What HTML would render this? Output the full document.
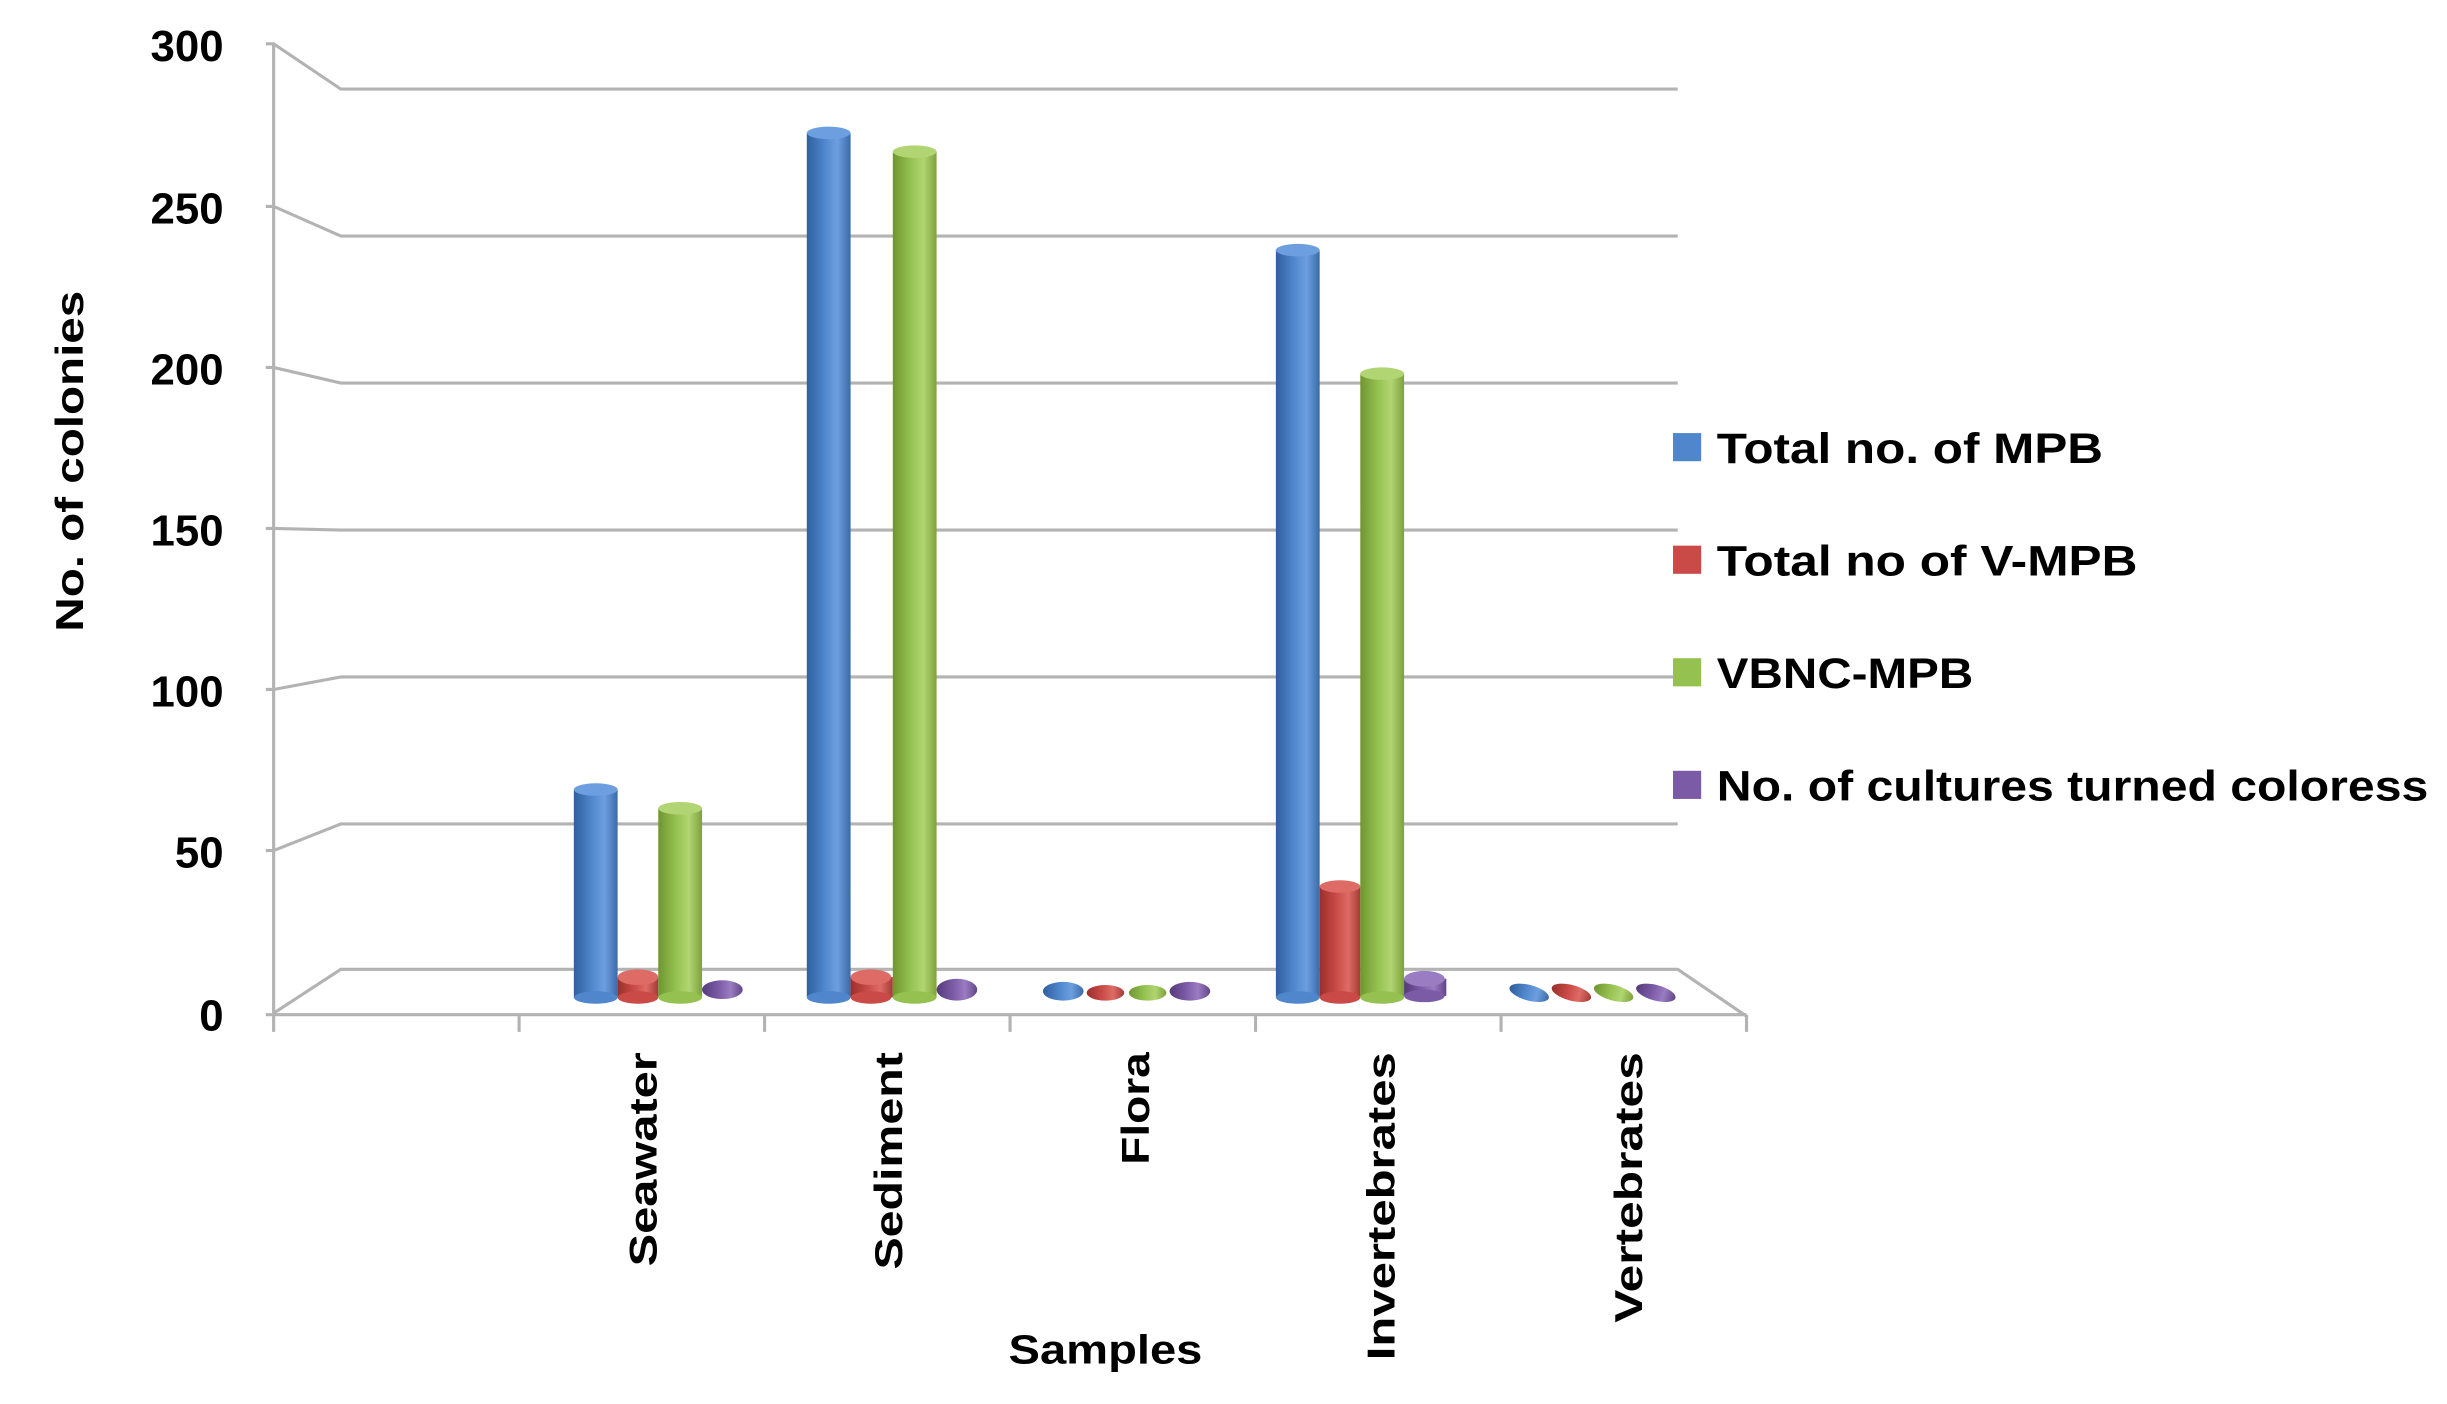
<!DOCTYPE html>
<html><head><meta charset="utf-8"><style>
html,body{margin:0;padding:0;background:#fff;}
svg{display:block;}
text{font-family:"Liberation Sans",sans-serif;font-weight:bold;fill:#000;}
</style></head><body>
<svg width="2447" height="1404" viewBox="0 0 1565 898" preserveAspectRatio="none" xmlns="http://www.w3.org/2000/svg">
<defs>
<linearGradient id="gb" x1="0" x2="1" y1="0" y2="0"><stop offset="0" stop-color="#2f5f9e"/><stop offset="0.4" stop-color="#4f86cc"/><stop offset="0.7" stop-color="#6d9fe0"/><stop offset="1" stop-color="#3a6aa8"/></linearGradient>
<linearGradient id="gr" x1="0" x2="1" y1="0" y2="0"><stop offset="0" stop-color="#9a2f2c"/><stop offset="0.4" stop-color="#c94a46"/><stop offset="0.7" stop-color="#de6b66"/><stop offset="1" stop-color="#a63a36"/></linearGradient>
<linearGradient id="gg" x1="0" x2="1" y1="0" y2="0"><stop offset="0" stop-color="#6f9530"/><stop offset="0.4" stop-color="#95c150"/><stop offset="0.7" stop-color="#b0d572"/><stop offset="1" stop-color="#7ea23a"/></linearGradient>
<linearGradient id="gp" x1="0" x2="1" y1="0" y2="0"><stop offset="0" stop-color="#553b7a"/><stop offset="0.4" stop-color="#7b5aa6"/><stop offset="0.7" stop-color="#9a7cc2"/><stop offset="1" stop-color="#624487"/></linearGradient>
</defs>
<g stroke="#b3b3b3" stroke-width="2" fill="none">
<line x1="175" y1="28" x2="175" y2="650"/>
<polyline points="170,28 175,28 218,57 1073,57"/>
<polyline points="170,132 175,132 218,151 1073,151"/>
<polyline points="170,235 175,235 218,245 1073,245"/>
<polyline points="170,338 175,338 218,339 1073,339"/>
<polyline points="170,441 175,441 218,433 1073,433"/>
<polyline points="170,544 175,544 218,527 1073,527"/>
<polyline points="175,648 218,620 1073,620 1117,650 1117,660"/>
<line x1="170" y1="649" x2="1117" y2="649"/>
<line x1="175" y1="649" x2="175" y2="660"/>
<line x1="332" y1="649" x2="332" y2="660"/>
<line x1="489" y1="649" x2="489" y2="660"/>
<line x1="646" y1="649" x2="646" y2="660"/>
<line x1="803" y1="649" x2="803" y2="660"/>
<line x1="960" y1="649" x2="960" y2="660"/>
</g>
<g>
<rect x="367" y="505" width="28" height="133" fill="url(#gb)"/><ellipse cx="381" cy="505" rx="14" ry="4" fill="#6d9fe0"/><ellipse cx="381" cy="638" rx="14" ry="4" fill="#4f86cc"/>
<rect x="395" y="625" width="26" height="13" fill="url(#gr)"/><ellipse cx="408" cy="625" rx="13" ry="5" fill="#de6b66"/><ellipse cx="408" cy="638" rx="13" ry="4" fill="#c94a46"/>
<rect x="421" y="517" width="28" height="121" fill="url(#gg)"/><ellipse cx="435" cy="517" rx="14" ry="4" fill="#b0d572"/><ellipse cx="435" cy="638" rx="14" ry="4" fill="#95c150"/>
<ellipse cx="462" cy="633" rx="13" ry="6" fill="url(#gp)"/>
<rect x="516" y="85" width="28" height="553" fill="url(#gb)"/><ellipse cx="530" cy="85" rx="14" ry="4" fill="#6d9fe0"/><ellipse cx="530" cy="638" rx="14" ry="4" fill="#4f86cc"/>
<rect x="544" y="625" width="27" height="13" fill="url(#gr)"/><ellipse cx="557" cy="625" rx="13" ry="5" fill="#de6b66"/><ellipse cx="557" cy="638" rx="13" ry="4" fill="#c94a46"/>
<rect x="571" y="97" width="28" height="541" fill="url(#gg)"/><ellipse cx="585" cy="97" rx="14" ry="4" fill="#b0d572"/><ellipse cx="585" cy="638" rx="14" ry="4" fill="#95c150"/>
<ellipse cx="612" cy="633" rx="13" ry="7" fill="url(#gp)"/>
<ellipse cx="680" cy="634" rx="13" ry="6" fill="url(#gb)"/>
<ellipse cx="707" cy="635" rx="12" ry="5" fill="url(#gr)"/>
<ellipse cx="734" cy="635" rx="12" ry="5" fill="url(#gg)"/>
<ellipse cx="761" cy="634" rx="13" ry="6" fill="url(#gp)"/>
<rect x="816" y="160" width="28" height="478" fill="url(#gb)"/><ellipse cx="830" cy="160" rx="14" ry="4" fill="#6d9fe0"/><ellipse cx="830" cy="638" rx="14" ry="4" fill="#4f86cc"/>
<rect x="844" y="567" width="26" height="71" fill="url(#gr)"/><ellipse cx="857" cy="567" rx="13" ry="4" fill="#de6b66"/><ellipse cx="857" cy="638" rx="13" ry="4" fill="#c94a46"/>
<rect x="870" y="239" width="28" height="399" fill="url(#gg)"/><ellipse cx="884" cy="239" rx="14" ry="4" fill="#b0d572"/><ellipse cx="884" cy="638" rx="14" ry="4" fill="#95c150"/>
<rect x="898" y="626" width="27" height="11" fill="url(#gp)"/><ellipse cx="911" cy="626" rx="13" ry="5" fill="#9a7cc2"/><ellipse cx="911" cy="637" rx="13" ry="4" fill="#7b5aa6"/>
<ellipse cx="978" cy="635" rx="13" ry="5" fill="url(#gb)" transform="rotate(15 978 635)"/>
<ellipse cx="1005" cy="635" rx="13" ry="5" fill="url(#gr)" transform="rotate(15 1005 635)"/>
<ellipse cx="1032" cy="635" rx="13" ry="5" fill="url(#gg)" transform="rotate(15 1032 635)"/>
<ellipse cx="1059" cy="635" rx="13" ry="5" fill="url(#gp)" transform="rotate(15 1059 635)"/>
</g>
<g font-size="28" text-anchor="end">
<text x="143" y="39">300</text>
<text x="143" y="143">250</text>
<text x="143" y="246">200</text>
<text x="143" y="349">150</text>
<text x="143" y="452">100</text>
<text x="143" y="555">50</text>
<text x="143" y="659">0</text>
</g>
<text transform="translate(53,295) rotate(-90)" font-size="25" text-anchor="middle" textLength="218" lengthAdjust="spacingAndGlyphs">No. of colonies</text>
<g font-size="25" text-anchor="end">
<text transform="translate(420,673) rotate(-90)" textLength="137" lengthAdjust="spacingAndGlyphs">Seawater</text>
<text transform="translate(577,673) rotate(-90)" textLength="139" lengthAdjust="spacingAndGlyphs">Sediment</text>
<text transform="translate(735,673) rotate(-90)" textLength="72" lengthAdjust="spacingAndGlyphs">Flora</text>
<text transform="translate(892,673) rotate(-90)" textLength="197" lengthAdjust="spacingAndGlyphs">Invertebrates</text>
<text transform="translate(1050,673) rotate(-90)" textLength="173" lengthAdjust="spacingAndGlyphs">Vertebrates</text>
</g>
<text x="707" y="872" font-size="26" text-anchor="middle" textLength="124" lengthAdjust="spacingAndGlyphs">Samples</text>
<g font-size="27">
<rect x="1070" y="277" width="18" height="18" fill="#4f86cc"/><text x="1098" y="296" textLength="247" lengthAdjust="spacingAndGlyphs">Total no. of MPB</text>
<rect x="1070" y="349" width="18" height="18" fill="#c94a46"/><text x="1098" y="368" textLength="269" lengthAdjust="spacingAndGlyphs">Total no of V-MPB</text>
<rect x="1070" y="421" width="18" height="18" fill="#95c150"/><text x="1098" y="440" textLength="164" lengthAdjust="spacingAndGlyphs">VBNC-MPB</text>
<rect x="1070" y="493" width="18" height="18" fill="#7b5aa6"/><text x="1098" y="512" textLength="455" lengthAdjust="spacingAndGlyphs">No. of cultures turned coloress</text>
</g>
</svg>
</body></html>
